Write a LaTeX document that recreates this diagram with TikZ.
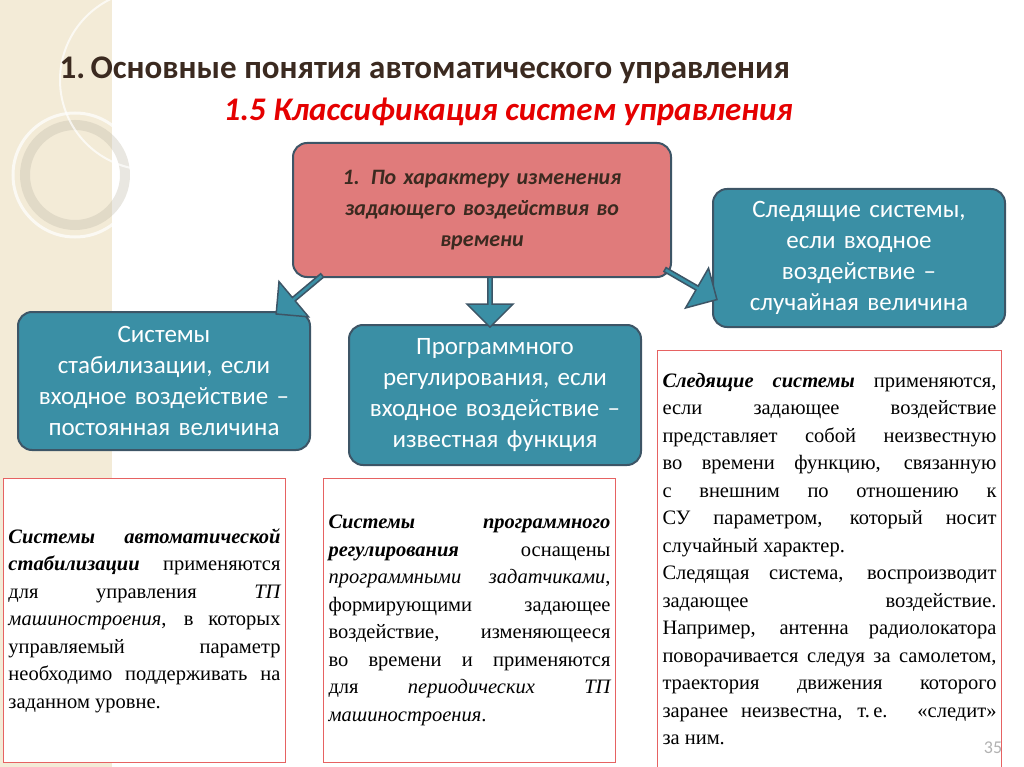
\documentclass[tikz,border=0pt]{standalone}
\usepackage{fontspec}
\setmainfont{Liberation Serif}
\newfontfamily\carl{Carlito}
\usetikzlibrary{shapes.arrows}
\definecolor{teal1}{HTML}{3A8FA5}
\definecolor{rose}{HTML}{E07B7B}
\definecolor{edge}{HTML}{3D5566}
\definecolor{beige}{HTML}{EDE3C6}
\definecolor{brownt}{HTML}{3B2A20}
\tikzset{
 tbox/.style={draw=edge,line width=2pt,fill=teal1,rounded corners=14pt,text=white,align=center,font=\carl\fontsize{25}{31}\selectfont,inner sep=4pt},
 rbox/.style={draw=rose!80!red,line width=1pt,fill=white,anchor=north west,inner sep=5pt,align=justify,font=\fontsize{20.5}{27.5}\selectfont},
 barrow/.style={single arrow,draw=edge,fill=teal1,line width=1.5pt,single arrow head extend=7pt,inner sep=0pt,minimum width=46pt}
}
\begin{document}
\begin{tikzpicture}[x=1pt,y=-1pt]
\useasboundingbox (0,0) rectangle (1024,767);
\fill[beige!70!white] (0,0) rectangle (112,767);
\draw[white,line width=3pt,opacity=.7] (75,175) circle (62);
\draw[beige!60!gray,line width=10pt,opacity=.35] (75,175) circle (50);
\draw[white,line width=2pt,opacity=.7] (150,80) circle (90);
\node[font=\carl\bfseries\fontsize{33}{36}\selectfont,text=brownt,anchor=west] (t1) at (56,70) {1.\,Основные понятия автоматического управления};
\node[font=\carl\bfseries\itshape\fontsize{33}{36}\selectfont,text=red!90!black,anchor=west] (t2) at (220,112) {1.5 Классификация систем управления};
\node[tbox,fill=rose,text=brownt,font=\carl\bfseries\itshape\fontsize{22}{31}\selectfont,minimum width=378pt,minimum height=134pt,text width=340pt] (top) at (482,210) {1. По характеру изменения\\ задающего воздействия во\\ времени};
\node[tbox,minimum width=292pt,minimum height=138pt,text width=280pt] (rt) at (859,258) {Следящие системы,\\ если входное\\ воздействие –\\ случайная величина};
\node[tbox,minimum width=292pt,minimum height=138pt,text width=280pt] (lt) at (164,381) {Системы\\ стабилизации, если\\ входное воздействие –\\ постоянная величина};
\node[tbox,minimum width=292pt,minimum height=140pt,text width=280pt] (mt) at (495,395) {Программного\\ регулирования, если\\ входное воздействие –\\ известная функция};
\node[barrow,rotate=-140,minimum height=60pt] (a1) at (300,294) {};
\node[barrow,rotate=-90,minimum height=50pt] (a2) at (490,301) {};
\node[barrow,rotate=-30,minimum height=60pt] (a3) at (690,284) {};
\node[rbox,text width=272pt,minimum height=284pt] (b1) at (3,478) {\textbf{\textit{Системы автоматической стабилизации}} применяются для управления \textit{ТП машиностроения}, в которых управляемый параметр необходимо поддерживать на заданном уровне.};
\node[rbox,text width=282pt,minimum height=284pt] (b2) at (323,478) {\textbf{\textit{Системы программного регулирования}} оснащены \textit{программными задатчиками}, формирующими задающее воздействие, изменяющееся во времени и применяются для \textit{периодических ТП машиностроения}.};
\node[rbox,text width=334pt,minimum height=417pt] (b3) at (657,350) {\textbf{\textit{Следящие системы}} применяются, если задающее воздействие представляет собой неизвестную во времени функцию, связанную с внешним по отношению к СУ параметром, который носит случайный характер.\\ Следящая система, воспроизводит задающее воздействие. Например, антенна радиолокатора поворачивается следуя за самолетом, траектория движения которого заранее неизвестна, т.\,е. «следит» за ним.};
\node[text=gray!60,font=\carl\fontsize{18}{20}\selectfont] (pg) at (993,748) {35};
\end{tikzpicture}
\end{document}
